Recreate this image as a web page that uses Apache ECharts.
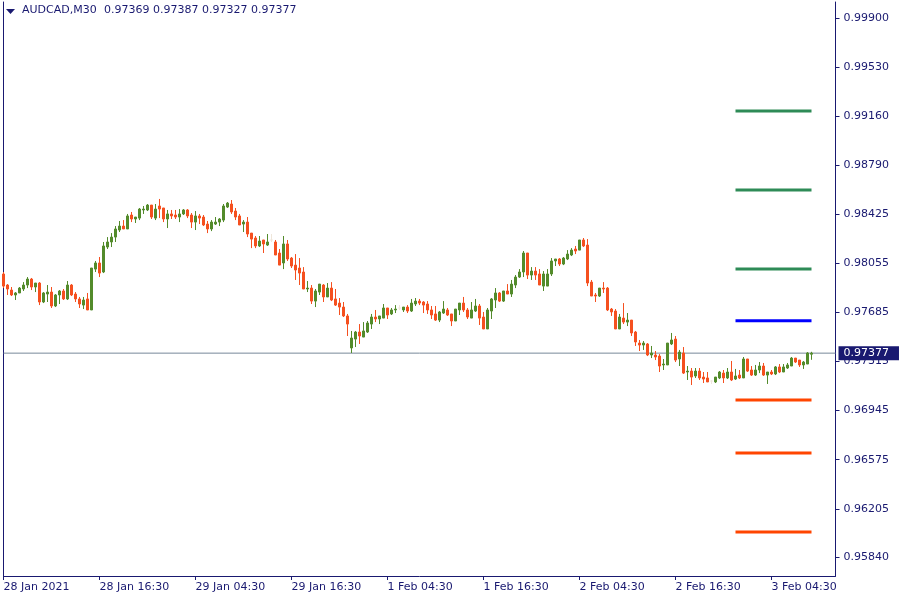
<!DOCTYPE html>
<html>
<head>
<meta charset="utf-8">
<script src="https://cdn.jsdelivr.net/npm/echarts@6/dist/echarts.min.js"></script>
<style>html,body{margin:0;padding:0;background:#fff;}#c{width:900px;height:600px;}</style>
</head>
<body>
<div id="c"></div>
<script>
const symbolTitle = 'AUDCAD,M30';
const headerValues = ['0.97369', '0.97387', '0.97327', '0.97377'];
const tickLabels = ['28 Jan 2021','28 Jan 16:30','29 Jan 04:30','29 Jan 16:30','1 Feb 04:30','1 Feb 16:30','2 Feb 04:30','2 Feb 16:30','3 Feb 04:30'];
const barsPerTick = 24;
const totalSlots = 209;
const priceTicks = [0.99900,0.99530,0.99160,0.98790,0.98425,0.98055,0.97685,0.97315,0.96945,0.96575,0.96205,0.95840];
const priceMin = 0.95699, priceMax = 1.00021;
const lastPrice = 0.97377;
const resistanceLevels = [0.99200, 0.98605, 0.98010];
const pivotLevel = 0.97620;
const supportLevels = [0.97025, 0.96625, 0.96030];
const levelStart = 183, levelEnd = 202;

const opens = [
0.97973,0.97890,0.97852,0.97815,0.97830,0.97860,0.97890,0.97935,0.97875,0.97905,
0.97762,0.97822,0.97837,0.97732,0.97815,0.97845,0.97785,0.97890,0.97822,0.97785,
0.97739,0.97785,0.97702,0.98010,0.98056,0.97988,0.98176,0.98214,0.98251,0.98304,
0.98334,0.98312,0.98417,0.98387,0.98394,0.98455,0.98455,0.98492,0.98394,0.98485,
0.98470,0.98387,0.98425,0.98417,0.98402,0.98425,0.98455,0.98417,0.98364,0.98410,
0.98402,0.98349,0.98312,0.98349,0.98364,0.98379,0.98477,0.98500,0.98447,0.98410,
0.98349,0.98364,0.98281,0.98244,0.98184,0.98229,0.98191,0.98229,0.98214,0.98131,
0.98056,0.98199,0.98093,0.98040,0.98018,0.97988,0.97860,0.97867,0.97769,0.97837,
0.97890,0.97800,0.97867,0.97785,0.97754,0.97724,0.97657,0.97416,0.97483,0.97536,
0.97498,0.97536,0.97596,0.97649,0.97634,0.97641,0.97717,0.97672,0.97702,0.97717,
0.97702,0.97724,0.97694,0.97747,0.97769,0.97762,0.97747,0.97702,0.97672,0.97626,
0.97679,0.97702,0.97672,0.97619,0.97702,0.97754,0.97702,0.97641,0.97694,0.97732,
0.97649,0.97559,0.97694,0.97777,0.97830,0.97769,0.97845,0.97822,0.97890,0.97950,
0.97988,0.98131,0.97965,0.97995,0.97973,0.97882,0.97882,0.97973,0.98071,0.98086,
0.98048,0.98086,0.98116,0.98161,0.98153,0.98229,0.98191,0.97912,0.97815,0.97807,
0.97867,0.97867,0.97709,0.97694,0.97559,0.97641,0.97611,0.97626,0.97536,0.97453,
0.97438,0.97446,0.97363,0.97363,0.97355,0.97288,0.97288,0.97446,0.97483,0.97333,
0.97378,0.97235,0.97242,0.97205,0.97242,0.97197,0.97190,0.97167,0.97160,0.97190,
0.97227,0.97190,0.97235,0.97182,0.97212,0.97190,0.97333,0.97250,0.97212,0.97250,
0.97280,0.97212,0.97235,0.97220,0.97273,0.97235,0.97265,0.97280,0.97340,0.97325,
0.97288,0.97295,0.97369];

const highs = [
0.97988,0.97897,0.97875,0.97837,0.97875,0.97912,0.97950,0.97943,0.97905,0.97912,
0.97837,0.97890,0.97875,0.97822,0.97852,0.97860,0.97920,0.97897,0.97837,0.97800,
0.97800,0.97830,0.98018,0.98071,0.98101,0.98214,0.98251,0.98281,0.98334,0.98372,
0.98379,0.98425,0.98440,0.98402,0.98470,0.98485,0.98500,0.98492,0.98500,0.98538,
0.98470,0.98455,0.98455,0.98455,0.98462,0.98462,0.98462,0.98432,0.98447,0.98425,
0.98417,0.98372,0.98379,0.98402,0.98394,0.98500,0.98515,0.98530,0.98470,0.98425,
0.98379,0.98402,0.98281,0.98259,0.98259,0.98229,0.98274,0.98274,0.98229,0.98161,
0.98259,0.98229,0.98101,0.98123,0.98093,0.98025,0.97920,0.97890,0.97860,0.97897,
0.97897,0.97905,0.97912,0.97860,0.97792,0.97762,0.97672,0.97544,0.97544,0.97596,
0.97611,0.97619,0.97672,0.97702,0.97657,0.97747,0.97717,0.97717,0.97739,0.97739,
0.97724,0.97739,0.97785,0.97792,0.97785,0.97769,0.97769,0.97732,0.97732,0.97694,
0.97769,0.97717,0.97672,0.97709,0.97754,0.97800,0.97717,0.97762,0.97785,0.97747,
0.97687,0.97717,0.97792,0.97867,0.97837,0.97845,0.97897,0.97928,0.97965,0.98010,
0.98146,0.98131,0.98025,0.98025,0.98010,0.97995,0.98010,0.98093,0.98086,0.98093,
0.98101,0.98153,0.98168,0.98184,0.98229,0.98244,0.98236,0.97928,0.97830,0.97867,
0.97912,0.97875,0.97717,0.97709,0.97672,0.97754,0.97679,0.97626,0.97544,0.97476,
0.97468,0.97453,0.97431,0.97393,0.97370,0.97333,0.97453,0.97529,0.97506,0.97401,
0.97423,0.97280,0.97265,0.97265,0.97265,0.97235,0.97235,0.97175,0.97197,0.97242,
0.97250,0.97265,0.97318,0.97258,0.97250,0.97348,0.97333,0.97280,0.97288,0.97310,
0.97303,0.97235,0.97250,0.97280,0.97295,0.97295,0.97303,0.97348,0.97340,0.97325,
0.97318,0.97385,0.97387];

const lows = [
0.97867,0.97815,0.97807,0.97777,0.97830,0.97845,0.97867,0.97852,0.97837,0.97739,
0.97754,0.97762,0.97717,0.97724,0.97747,0.97777,0.97777,0.97807,0.97762,0.97717,
0.97709,0.97702,0.97702,0.97988,0.97950,0.97980,0.98161,0.98176,0.98214,0.98289,
0.98312,0.98312,0.98364,0.98357,0.98379,0.98425,0.98447,0.98387,0.98379,0.98394,
0.98364,0.98319,0.98387,0.98387,0.98364,0.98417,0.98394,0.98319,0.98304,0.98349,
0.98334,0.98281,0.98296,0.98342,0.98334,0.98364,0.98470,0.98425,0.98379,0.98342,
0.98289,0.98251,0.98168,0.98168,0.98176,0.98131,0.98184,0.98214,0.98116,0.98040,
0.98010,0.98071,0.98018,0.97928,0.97890,0.97860,0.97837,0.97747,0.97724,0.97815,
0.97762,0.97800,0.97769,0.97732,0.97664,0.97649,0.97506,0.97378,0.97423,0.97446,
0.97498,0.97529,0.97559,0.97611,0.97596,0.97641,0.97634,0.97664,0.97679,0.97702,
0.97687,0.97679,0.97687,0.97732,0.97739,0.97679,0.97672,0.97634,0.97619,0.97611,
0.97672,0.97657,0.97581,0.97619,0.97664,0.97687,0.97634,0.97641,0.97687,0.97589,
0.97559,0.97559,0.97634,0.97717,0.97762,0.97762,0.97822,0.97800,0.97867,0.97943,
0.97950,0.97935,0.97928,0.97928,0.97890,0.97845,0.97882,0.97958,0.98033,0.98033,
0.98040,0.98078,0.98108,0.98123,0.98153,0.98176,0.97882,0.97807,0.97762,0.97800,
0.97830,0.97694,0.97657,0.97559,0.97559,0.97596,0.97581,0.97506,0.97431,0.97393,
0.97401,0.97355,0.97340,0.97325,0.97235,0.97250,0.97288,0.97438,0.97310,0.97280,
0.97220,0.97175,0.97137,0.97190,0.97175,0.97152,0.97160,0.97145,0.97152,0.97182,
0.97152,0.97182,0.97167,0.97175,0.97182,0.97190,0.97235,0.97205,0.97205,0.97227,
0.97205,0.97145,0.97212,0.97212,0.97227,0.97235,0.97258,0.97280,0.97303,0.97273,
0.97258,0.97295,0.97327];

const closes = [
0.97882,0.97860,0.97815,0.97830,0.97867,0.97890,0.97935,0.97875,0.97905,0.97762,
0.97830,0.97837,0.97732,0.97815,0.97845,0.97785,0.97890,0.97815,0.97785,0.97747,
0.97777,0.97702,0.98018,0.98056,0.97980,0.98184,0.98214,0.98251,0.98312,0.98334,
0.98312,0.98410,0.98387,0.98402,0.98462,0.98462,0.98492,0.98402,0.98462,0.98462,
0.98387,0.98425,0.98410,0.98402,0.98425,0.98455,0.98410,0.98364,0.98410,0.98394,
0.98342,0.98312,0.98364,0.98364,0.98387,0.98485,0.98507,0.98440,0.98402,0.98342,
0.98364,0.98274,0.98236,0.98184,0.98221,0.98199,0.98214,0.98229,0.98116,0.98040,
0.98199,0.98086,0.98033,0.98003,0.97980,0.97860,0.97867,0.97769,0.97845,0.97897,
0.97800,0.97867,0.97777,0.97739,0.97724,0.97657,0.97596,0.97491,0.97536,0.97506,
0.97544,0.97604,0.97649,0.97634,0.97657,0.97717,0.97664,0.97702,0.97709,0.97717,
0.97724,0.97694,0.97754,0.97769,0.97754,0.97739,0.97702,0.97664,0.97626,0.97687,
0.97709,0.97664,0.97619,0.97709,0.97754,0.97702,0.97649,0.97702,0.97732,0.97641,
0.97559,0.97702,0.97785,0.97830,0.97769,0.97845,0.97822,0.97897,0.97950,0.97988,
0.98131,0.97965,0.97995,0.97965,0.97890,0.97973,0.97973,0.98071,0.98086,0.98048,
0.98093,0.98123,0.98153,0.98146,0.98229,0.98184,0.97905,0.97807,0.97807,0.97867,
0.97860,0.97702,0.97687,0.97559,0.97649,0.97611,0.97626,0.97529,0.97461,0.97438,
0.97453,0.97363,0.97378,0.97348,0.97280,0.97295,0.97453,0.97476,0.97325,0.97385,
0.97227,0.97242,0.97197,0.97242,0.97190,0.97182,0.97160,0.97167,0.97197,0.97235,
0.97190,0.97235,0.97175,0.97205,0.97190,0.97333,0.97242,0.97212,0.97250,0.97280,
0.97212,0.97235,0.97220,0.97273,0.97235,0.97273,0.97288,0.97340,0.97310,0.97288,
0.97310,0.97378,0.97377];

const NAVY = '#191970';
const FONT = 'DejaVu Sans';
const upColor = '#538b2b', downColor = '#f5501f', dojiColor = '#efe6da';
const resColor = '#2e8b57', pivColor = '#0000ff', supColor = '#ff4500';

const categories = [];
for (let i = 0; i < totalSlots; i++) categories.push(String(i));
const candleData = opens.map((o, i) => [o, closes[i], lows[i], highs[i]]);

function levelSeries(v, color) {
  return {
    type: 'line', data: [[levelStart, v], [levelEnd, v]], symbol: 'none',
    lineStyle: { color: color, width: 3, cap: 'butt' }, silent: true, z: 3, animation: false
  };
}

const priceLineSeries = {
  type: 'line', data: [[0, lastPrice], [totalSlots - 1, lastPrice]], symbol: 'none', silent: true, z: 1,
  lineStyle: { color: '#778899', width: 1 },
  endLabel: {
    show: true, distance: 3, formatter: lastPrice.toFixed(5),
    color: '#ffffff', backgroundColor: NAVY, fontSize: 11, fontFamily: FONT,
    padding: [1, 10, 1, 5], lineHeight: 12
  }
};

const chart = echarts.init(document.getElementById('c'), null, { renderer: 'canvas' });
chart.setOption({
  animation: false,
  backgroundColor: '#ffffff',
  textStyle: { fontFamily: FONT },
  grid: { left: 3.5, right: 64.5, top: 2, bottom: 24, show: false },
  graphic: [
    { type: 'polygon', shape: { points: [[6, 9], [15, 9], [10.5, 14]] }, style: { fill: NAVY } },
    { type: 'text', left: 22, top: 5, style: { text: symbolTitle, fill: NAVY, font: '11px "DejaVu Sans"' } },
    { type: 'text', left: 104, top: 5, style: { text: headerValues.join(' '), fill: NAVY, font: '11px "DejaVu Sans"' } }
  ],
  xAxis: {
    type: 'category', data: categories, boundaryGap: false,
    axisLine: { show: true, lineStyle: { color: NAVY, width: 1 } },
    axisTick: { show: true, interval: barsPerTick - 1, length: 4, lineStyle: { color: NAVY } },
    axisLabel: {
      interval: barsPerTick - 1, align: 'left', margin: 6, color: NAVY, fontSize: 11, fontFamily: FONT,
      formatter: (v, idx) => (idx % barsPerTick === 0 && tickLabels[idx / barsPerTick]) ? tickLabels[idx / barsPerTick] : ''
    },
    splitLine: { show: false }
  },
  yAxis: [{
    type: 'value', position: 'right', min: priceMin, max: priceMax, scale: true,
    axisLine: { show: true, lineStyle: { color: NAVY, width: 1 } },
    axisTick: { show: true, length: 4, customValues: priceTicks, lineStyle: { color: NAVY } },
    axisLabel: { customValues: priceTicks, margin: 8, color: NAVY, fontSize: 11, fontFamily: FONT, formatter: v => v.toFixed(5) },
    splitLine: { show: false }
  }, {
    type: 'value', position: 'left', min: priceMin, max: priceMax, scale: true,
    axisLine: { show: true, onZero: false, lineStyle: { color: NAVY, width: 1 } },
    axisTick: { show: false }, axisLabel: { show: false }, splitLine: { show: false }
  }],
  series: [
    priceLineSeries,
    {
      type: 'candlestick', data: candleData, barWidth: 2, z: 4,
      itemStyle: { color: upColor, color0: downColor, borderColor: upColor, borderColor0: downColor, borderColorDoji: dojiColor, borderWidth: 1 }
    },
    levelSeries(resistanceLevels[0], resColor),
    levelSeries(resistanceLevels[1], resColor),
    levelSeries(resistanceLevels[2], resColor),
    levelSeries(pivotLevel, pivColor),
    levelSeries(supportLevels[0], supColor),
    levelSeries(supportLevels[1], supColor),
    levelSeries(supportLevels[2], supColor)
  ]
});
</script>
</body>
</html>
